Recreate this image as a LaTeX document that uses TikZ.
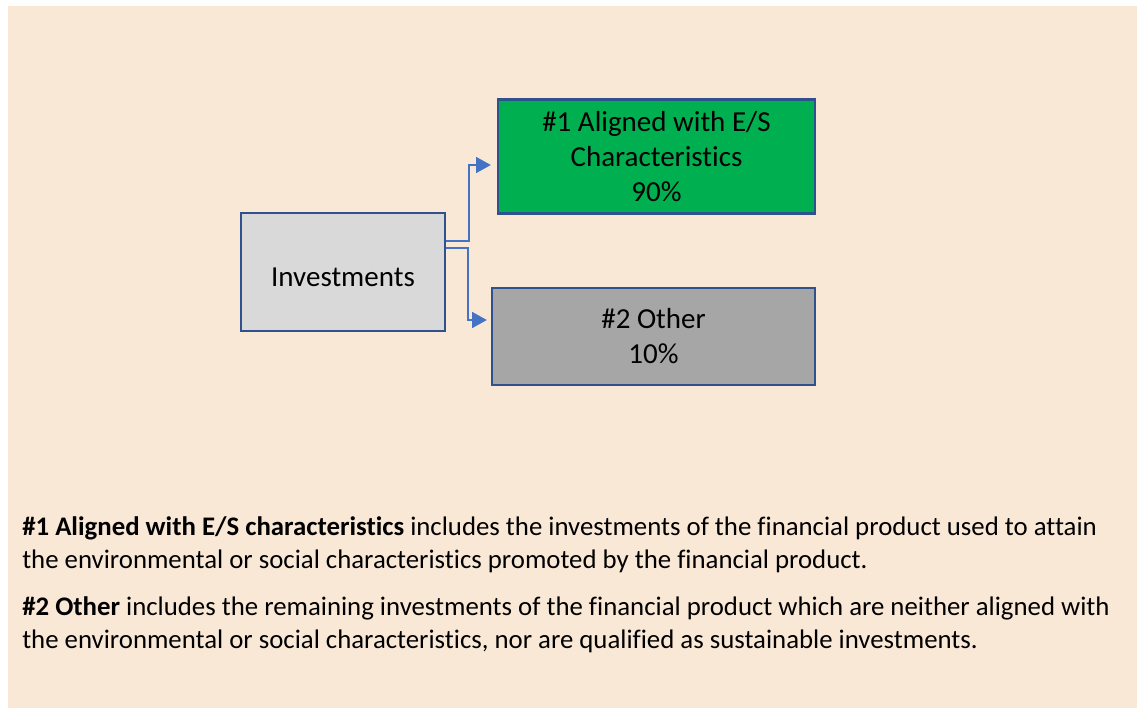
\documentclass[tikz,border=0pt]{standalone}
\usepackage{fontspec}
\setmainfont[Ligatures=CommonOff]{Carlito}
\usetikzlibrary{arrows.meta}
\definecolor{bg}{HTML}{FAE8D7}
\definecolor{bordc}{HTML}{2F528F}
\definecolor{connc}{HTML}{4472C4}
\definecolor{grn}{HTML}{00B050}
\definecolor{gry}{HTML}{A6A6A6}
\definecolor{lgry}{HTML}{D9D9D9}
\tikzset{
  boxstyle/.style={draw=bordc, line width=1.8pt, align=center, inner sep=0pt,
    font=\fontsize{21.75}{26.25}\selectfont},
  connline/.style={draw=connc, line width=1pt, -{Triangle[length=11pt,width=12pt]}},
  para/.style={anchor=base west, align=left, inner sep=0pt,
    font=\fontsize{20.1}{24.75}\selectfont}
}
\begin{document}
\begin{tikzpicture}[x=0.75pt,y=-0.75pt]
\useasboundingbox (0,0) rectangle (1141,708);
\fill[white] (0,0) rectangle (1141,708);
\fill[bg] (8,6) rectangle (1137,708);

\node[boxstyle, fill=lgry, minimum width=153pt, minimum height=88.5pt, text height=21pt, text depth=0pt] (inv) at (343,272) {Investments};
\node[boxstyle, fill=grn, minimum width=237.75pt, minimum height=85.5pt] (green) at (656.5,156.5) {\#1 Aligned with E/S\\Characteristics\\90\%};
\node[boxstyle, fill=gry, minimum width=242.25pt, minimum height=72.75pt] (gray) at (653.5,336.5) {\#2 Other\\10\%};

\coordinate (y1) at (0,241);
\coordinate (k1) at (469,165);
\coordinate (y2) at (0,248);
\coordinate (k2) at (468,320);
\draw[connline, shorten >=4.5pt] (inv.east |- y1) -| (k1) -- (green.west |- k1);
\draw[connline, shorten >=3pt] (inv.east |- y2) -| (k2) -- (gray.west |- k2);

\node[para] (p1) at (22,568) {\textbf{\#1 Aligned with E/S characteristics} includes the investments of the financial product used to attain\\the environmental or social characteristics promoted by the financial product.};
\node[para] (p2) at (22,648) {\textbf{\#2 Other} includes the remaining investments of the financial product which are neither aligned with\\the environmental or social characteristics, nor are qualified as sustainable investments.};
\end{tikzpicture}
\end{document}
